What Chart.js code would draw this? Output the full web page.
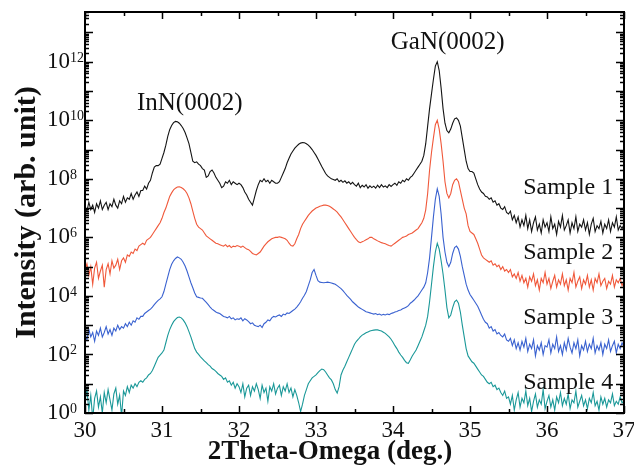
<!DOCTYPE html>
<html lang="en">
<head>
    <meta charset="UTF-8">
    <title>XRD 2Theta-Omega scans</title>
    <script src="https://cdn.jsdelivr.net/npm/chart.js"></script>
    <style>
        body { margin: 0; background: #fff; }
    </style>
</head>
<body>
    <canvas id="xrdChart" width="634" height="471"></canvas>

    <script>
        // scan positions, 30..37 deg in 0.025 deg steps
        const theta = Array.from({ length: 281 }, (_, i) => +(30 + i * 0.025).toFixed(3));

        // log10 of the intensity for each sample, one row = 0.25 deg
        const sample1 = [
            7.05, 6.9, 7.2, 6.95, 7.1, 6.85, 7.15, 7.0, 7.25, 6.95,
            7.1, 7.2, 6.95, 7.15, 7.05, 7.3, 7.1, 7.0, 7.25, 7.15,
            7.4, 7.2, 7.35, 7.3, 7.5, 7.3, 7.45, 7.55, 7.4, 7.6,
            7.6, 7.75, 7.65, 7.85, 7.95, 8.2, 8.4, 8.45, 8.45, 8.5,
            8.7, 8.9, 9.15, 9.45, 9.68, 9.82, 9.92, 9.96, 9.95, 9.9,
            9.82, 9.72, 9.58, 9.4, 9.2, 8.9, 8.6, 8.55, 8.58, 8.5,
            8.45, 8.35, 8.3, 8.05, 8.1, 8.25, 8.3, 8.2, 8.05, 7.95,
            7.85, 7.7, 7.75, 7.9, 7.85, 7.95, 7.8, 7.9, 7.85, 7.8,
            7.85, 7.8, 7.7, 7.55, 7.45, 7.3, 7.2, 7.1, 7.35, 7.6,
            7.8, 7.95, 7.9, 8.0, 7.9, 7.95, 7.85, 7.95, 7.9, 7.85,
            7.85, 7.9, 8.05, 8.2, 8.35, 8.55, 8.7, 8.85, 8.95, 9.05,
            9.12, 9.18, 9.22, 9.24, 9.23, 9.2, 9.15, 9.08, 9.0, 8.9,
            8.8, 8.68, 8.55, 8.42, 8.3, 8.18, 8.1, 8.05, 8.0, 7.98,
            7.95, 8.0, 7.9, 7.95, 7.88, 7.93, 7.85, 7.9, 7.82, 7.88,
            7.8, 7.75, 7.85, 7.7, 7.78, 7.72, 7.8, 7.68, 7.76, 7.7,
            7.75, 7.68, 7.78, 7.7, 7.8, 7.72, 7.76, 7.7, 7.8, 7.74,
            7.8, 7.85, 7.78, 7.9, 7.85, 7.95, 7.9, 8.0, 7.95, 8.05,
            8.1, 8.2, 8.3, 8.4, 8.5, 8.6, 8.8, 9.2, 9.8, 10.4,
            10.9, 11.4, 11.85, 12.0, 11.7, 11.1, 10.4, 9.9, 9.65, 9.57,
            9.7, 9.9, 10.05, 10.08, 10.0, 9.8, 9.4, 9.0, 8.6, 8.35,
            8.25, 8.25, 8.2, 8.0, 7.8, 7.65, 7.55, 7.5, 7.4, 7.38,
            7.3, 7.35, 7.2, 7.25, 7.1, 7.15, 7.0, 6.95, 7.05, 6.85,
            6.8, 6.9, 6.6, 6.75, 6.5, 6.7, 6.35, 6.6, 6.4, 6.75,
            6.3, 6.6, 6.2, 6.5, 6.7, 6.25, 6.45, 6.15, 6.6, 6.35,
            6.5, 6.2, 6.7, 6.3, 6.45, 6.1, 6.55, 6.35, 6.75, 6.25,
            6.4, 6.6, 6.15, 6.5, 6.3, 6.7, 6.2, 6.45, 6.35, 6.6,
            6.25, 6.5, 6.1, 6.45, 6.65, 6.2, 6.4, 6.3, 6.55, 6.15,
            6.45, 6.3, 6.6, 6.2, 6.5, 6.35, 6.7, 6.25, 6.4, 6.3,
            6.45
        ];
        const sample2 = [
            4.9, 5.1, 4.7, 5.0, 4.4, 4.95, 5.15, 4.6, 4.85, 5.05,
            4.3, 4.9, 5.1, 4.75, 5.2, 4.95, 5.05, 5.25, 4.9, 5.2,
            5.3, 5.15, 5.4, 5.35, 5.5, 5.45, 5.6, 5.55, 5.7, 5.75,
            5.8, 5.75, 5.9, 5.95, 6.0, 6.1, 6.2, 6.3, 6.4, 6.5,
            6.65, 6.85, 7.0, 7.2, 7.4, 7.52, 7.62, 7.68, 7.72, 7.73,
            7.7, 7.66, 7.6, 7.5, 7.35, 7.15, 6.9, 6.65, 6.45, 6.35,
            6.3, 6.25, 6.15, 6.05, 6.0, 5.95, 5.9, 5.85, 5.8, 5.78,
            5.75, 5.72, 5.7, 5.75, 5.68, 5.72, 5.65, 5.7, 5.68, 5.72,
            5.7, 5.66, 5.7, 5.65, 5.6, 5.58, 5.52, 5.45, 5.42, 5.4,
            5.45, 5.5, 5.6, 5.7, 5.78, 5.85, 5.9, 5.95, 5.98, 6.0,
            6.0, 6.02, 6.0, 5.98, 5.95, 5.9, 5.8, 5.72, 5.7, 5.78,
            5.95, 6.1, 6.3, 6.45, 6.55, 6.65, 6.75, 6.83, 6.9, 6.95,
            7.0, 7.03, 7.06, 7.08, 7.1, 7.1, 7.09, 7.06, 7.02, 6.97,
            6.92, 6.86, 6.78, 6.7, 6.6, 6.5, 6.4, 6.3, 6.2, 6.1,
            6.0, 5.92, 5.85, 5.82, 5.85, 5.88, 5.92, 5.95, 6.0, 6.0,
            5.95, 5.92, 5.88, 5.85, 5.82, 5.8, 5.78, 5.75, 5.72, 5.7,
            5.75, 5.8, 5.85, 5.9, 5.95, 6.0, 6.02, 6.05, 6.1, 6.12,
            6.15, 6.2, 6.25, 6.3, 6.4, 6.5, 6.65, 6.94, 7.5, 8.3,
            8.9, 9.4, 9.85, 10.0, 9.7, 9.2, 8.6, 7.9, 7.5, 7.35,
            7.5, 7.8, 7.95, 8.0, 7.9, 7.6, 7.3, 7.0, 6.8, 6.4,
            6.2, 6.15, 6.1, 5.95, 5.8, 5.6, 5.4, 5.3, 5.25, 5.2,
            5.15, 5.2, 5.05, 5.1, 5.0, 5.05, 4.9, 5.0, 4.85, 4.9,
            4.8, 4.9, 4.65, 4.75, 4.6, 4.8, 4.5, 4.7, 4.45, 4.6,
            4.3, 4.65, 4.5, 4.75, 4.35, 4.55, 4.2, 4.6, 4.45, 4.8,
            4.4, 4.6, 4.25, 4.5, 4.7, 4.3, 4.55, 4.4, 4.75, 4.35,
            4.55, 4.2, 4.6, 4.45, 4.8, 4.3, 4.5, 4.65, 4.25, 4.55,
            4.4, 4.7, 4.3, 4.55, 4.2, 4.6, 4.45, 4.75, 4.35, 4.5,
            4.6, 4.25, 4.5, 4.4, 4.7, 4.3, 4.55, 4.45, 4.6, 4.35,
            4.5
        ];
        const sample3 = [
            2.7, 2.5, 2.85, 2.6, 2.75, 2.45, 2.8, 2.65, 2.9, 2.6,
            2.75, 2.95, 2.7, 2.85, 2.65, 2.9, 2.8, 3.0, 2.85, 2.95,
            2.9, 3.05, 2.95, 3.1, 3.0, 3.15, 3.1, 3.25, 3.2, 3.3,
            3.3, 3.4, 3.45, 3.5, 3.55, 3.62, 3.7, 3.78, 3.85, 3.9,
            3.97, 4.15, 4.4, 4.65, 4.9, 5.08, 5.2, 5.28, 5.33, 5.3,
            5.25, 5.15, 5.02, 4.85, 4.65, 4.45, 4.28, 4.1, 3.97, 3.95,
            3.93, 3.92, 3.85, 3.78, 3.7, 3.62, 3.55, 3.5, 3.45, 3.42,
            3.4, 3.35, 3.3, 3.28, 3.25, 3.3, 3.22, 3.25, 3.18, 3.22,
            3.2, 3.25, 3.15, 3.22, 3.18, 3.12, 3.05, 3.08, 3.0, 2.97,
            2.95, 3.0, 2.92, 3.05, 3.1, 3.18, 3.15, 3.25, 3.3, 3.28,
            3.32, 3.35, 3.3, 3.38, 3.35, 3.42, 3.4, 3.45, 3.5, 3.55,
            3.62, 3.7, 3.8, 3.92, 4.02, 4.15, 4.35, 4.55, 4.8, 4.9,
            4.7, 4.52, 4.47, 4.46, 4.45, 4.46, 4.47, 4.46, 4.44, 4.42,
            4.4, 4.35, 4.3, 4.25, 4.18, 4.1, 4.02, 3.95, 3.88, 3.8,
            3.74, 3.68, 3.62, 3.58, 3.54, 3.5, 3.46, 3.44, 3.42, 3.4,
            3.38, 3.4, 3.36, 3.38, 3.34, 3.37, 3.35, 3.38, 3.36, 3.4,
            3.42, 3.45, 3.47, 3.5, 3.52, 3.56, 3.59, 3.62, 3.67, 3.75,
            3.8, 3.86, 3.93, 4.0, 4.1, 4.2, 4.3, 4.45, 4.8, 5.3,
            6.0, 6.7, 7.3, 7.66, 7.4, 6.8, 6.0, 5.5, 5.15, 5.0,
            5.15, 5.45, 5.65, 5.7, 5.6, 5.35, 5.0, 4.7, 4.4, 4.2,
            4.05, 3.95, 3.85, 3.75, 3.65, 3.5, 3.35, 3.2, 3.1, 3.05,
            2.9, 2.95, 2.8, 2.85, 2.7, 2.75, 2.65, 2.6, 2.7, 2.5,
            2.45, 2.55, 2.3, 2.5, 2.2, 2.4, 2.15, 2.45, 2.25, 2.55,
            2.1, 2.35, 2.2, 2.5, 1.95, 2.3, 2.15, 2.4, 2.0, 2.3,
            2.25, 2.5, 2.05, 2.35, 2.2, 2.6, 2.1, 2.3, 2.0, 2.4,
            2.15, 2.55, 2.25, 2.05, 2.4, 2.2, 2.5, 1.95, 2.3, 2.15,
            2.45, 2.1, 2.35, 2.2, 2.55, 2.05, 2.3, 2.15, 2.4, 2.0,
            2.35, 2.2, 2.5, 2.1, 2.3, 2.45, 2.05, 2.35, 2.2, 2.4,
            2.25
        ];
        const sample4 = [
            0.4, 0.8, 0.1, 0.6, -0.2, 0.5, 0.75, 0.2, 0.55, 0.0,
            0.7, 0.35, 0.8, 0.45, 0.1, 0.65, 0.85, 0.3, 0.6, -0.1,
            0.75, 0.6, 0.9, 0.7, 0.95, 0.85, 1.0, 0.9, 1.05, 1.1,
            1.05, 1.15, 1.2, 1.3, 1.35, 1.45, 1.6, 1.75, 1.9, 1.98,
            2.05, 2.15, 2.4, 2.65, 2.85, 3.0, 3.12, 3.2, 3.26, 3.28,
            3.25, 3.18, 3.08, 2.95, 2.78, 2.6, 2.4, 2.2, 2.08, 2.0,
            1.92, 1.85, 1.78, 1.72, 1.65, 1.6, 1.52, 1.48, 1.42, 1.35,
            1.3, 1.25, 1.15, 1.2, 1.05, 1.1, 0.95, 1.05, 0.85, 1.0,
            0.9, 0.7, 1.0, 0.55, 0.85, 0.95, 0.6, 0.9, 0.75, 1.0,
            0.8, 0.5, 0.95, 0.7, 0.85, 0.4, 0.9, 0.75, 1.0, 0.65,
            0.85, 0.95, 0.6, 0.9, 0.75, 1.0, 0.7, 0.85, 0.55, 0.8,
            0.6, 0.35, 0.05, 0.3, 0.6, 0.8, 1.0, 1.1, 1.2, 1.25,
            1.3, 1.38, 1.45, 1.5, 1.48, 1.4, 1.3, 1.2, 1.13, 1.0,
            0.8, 0.68, 0.9, 1.3, 1.47, 1.6, 1.75, 1.9, 2.05, 2.2,
            2.35, 2.45, 2.52, 2.6, 2.66, 2.7, 2.74, 2.77, 2.8, 2.82,
            2.83, 2.84, 2.84, 2.82, 2.8, 2.76, 2.72, 2.66, 2.6, 2.52,
            2.42, 2.3, 2.2, 2.08, 1.98, 1.9, 1.8, 1.72, 1.7, 1.82,
            1.95, 2.05, 2.15, 2.3, 2.45, 2.6, 2.8, 3.0, 3.3, 3.8,
            4.4, 5.0, 5.5, 5.8, 5.6, 5.2, 4.75, 4.2, 3.6, 3.25,
            3.35, 3.6, 3.8, 3.86, 3.75, 3.45, 3.0, 2.6, 2.2, 1.95,
            1.85, 1.75, 1.7, 1.6, 1.5, 1.4, 1.3, 1.25, 1.15, 1.05,
            1.0, 1.05, 0.9, 0.95, 0.8, 0.85, 0.7, 0.6, 0.75, 0.5,
            0.55, 0.3, 0.6, 0.1, 0.45, 0.7, 0.2, 0.5, 0.35, 0.75,
            0.25, 0.5, 0.05, 0.4, 0.65, 0.2, 0.45, 0.3, 0.8, 0.15,
            0.4, 0.6, 0.2, 0.45, 0.1, 0.55, 0.35, 0.7, 0.25, 0.5,
            0.3, 0.65, 0.15, 0.45, 0.35, 0.75, 0.2, 0.4, 0.6, 0.25,
            0.45, 0.15, 0.5, 0.35, 0.7, 0.25, 0.4, 0.1, 0.55, 0.3,
            0.5, 0.2, 0.45, 0.35, 0.65, 0.25, 0.4, 0.3, 0.55, 0.35,
            0.4
        ];

        const sampleNames = ['Sample 1', 'Sample 2', 'Sample 3', 'Sample 4'];
        const sampleColors = ['#141414', '#f0583a', '#3a62d0', '#1a9898'];
        const yLabelPowers = [0, 2, 4, 6, 8, 10, 12];

        const serif = "'Liberation Serif', 'Times New Roman', serif";
        const isPow10 = v => Math.abs(Math.log10(v) - Math.round(Math.log10(v))) < 1e-9;

        // peak names and sample tags, placed in data units (deg, log10 intensity)
        const peakLabels = [
            { text: 'InN(0002)', x: 31.36, e: 10.56 },
            { text: 'GaN(0002)', x: 34.71, e: 12.65 }
        ];
        const sampleTagE = [7.69, 5.47, 3.25, 1.03];

        // box frame with inward ticks on all four sides, 10^n labels, titles and tags
        const frameAndLabels = {
            id: 'frameAndLabels',
            afterDraw(chart) {
                const { ctx, chartArea: a, scales: { x, y } } = chart;
                ctx.save();
                ctx.strokeStyle = '#000';
                ctx.lineWidth = 1.5;
                ctx.beginPath();
                x.ticks.forEach(t => {
                    const px = Math.round(x.getPixelForValue(t.value)) + 0.5;
                    const len = Math.abs(t.value - Math.round(t.value)) < 1e-6 ? 7 : 4;
                    ctx.moveTo(px, a.bottom); ctx.lineTo(px, a.bottom - len);
                    ctx.moveTo(px, a.top); ctx.lineTo(px, a.top + len);
                });
                y.ticks.forEach(t => {
                    const py = Math.round(y.getPixelForValue(t.value)) + 0.5;
                    const len = isPow10(t.value) ? 8 : 4;
                    ctx.moveTo(a.left, py); ctx.lineTo(a.left + len, py);
                    ctx.moveTo(a.right, py); ctx.lineTo(a.right - len, py);
                });
                ctx.stroke();
                ctx.lineWidth = 2;
                ctx.strokeRect(a.left, a.top, a.right - a.left, a.bottom - a.top);

                ctx.fillStyle = '#111';

                // y labels as 10 with a raised exponent
                yLabelPowers.forEach(p => {
                    const py = y.getPixelForValue(10 ** p);
                    ctx.font = `23px ${serif}`;
                    ctx.textAlign = 'right';
                    ctx.textBaseline = 'middle';
                    ctx.fillText('10', a.left - 15, py);
                    ctx.font = `14px ${serif}`;
                    ctx.textAlign = 'left';
                    ctx.textBaseline = 'alphabetic';
                    ctx.fillText(String(p), a.left - 15, py);
                });

                ctx.textBaseline = 'middle';
                ctx.textAlign = 'center';
                ctx.font = `bold 27px ${serif}`;
                ctx.fillText('2Theta-Omega (deg.)', 330, 452);

                ctx.font = `25px ${serif}`;
                peakLabels.forEach(l => {
                    ctx.fillText(l.text, x.getPixelForValue(l.x), y.getPixelForValue(10 ** l.e));
                });
                ctx.font = `24px ${serif}`;
                ctx.textAlign = 'right';
                sampleNames.forEach((name, i) => {
                    ctx.fillText(name, x.getPixelForValue(36.86), y.getPixelForValue(10 ** sampleTagE[i]));
                });
                ctx.restore();
            }
        };

        const series = [sample1, sample2, sample3, sample4];

        new Chart(document.getElementById('xrdChart'), {
            type: 'line',
            data: {
                datasets: series.map((s, i) => ({
                    label: sampleNames[i],
                    data: theta.map((t, j) => ({ x: t, y: 10 ** s[j] })),
                    borderColor: sampleColors[i],
                    borderWidth: 1.1,
                    pointRadius: 0,
                    tension: 0
                }))
            },
            options: {
                responsive: false,
                animation: false,
                layout: { padding: { top: 12, right: 10, left: 0, bottom: 0 } },
                plugins: { legend: { display: false }, tooltip: { enabled: false } },
                scales: {
                    x: {
                        type: 'linear',
                        min: 30,
                        max: 37,
                        grid: { display: false },
                        border: { display: false },
                        ticks: {
                            stepSize: 0.5,
                            autoSkip: false,
                            maxRotation: 0,
                            padding: -4,
                            color: '#111',
                            font: { family: serif, size: 23 },
                            callback: v => Math.abs(v - Math.round(v)) < 1e-6 ? String(Math.round(v)) : ''
                        },
                        afterFit: s => {
                            s.height = 58;
                            s.paddingLeft = 0;
                            s.paddingRight = 0;
                        }
                    },
                    y: {
                        type: 'logarithmic',
                        min: 1,
                        max: 5e13,
                        grid: { display: false },
                        border: { display: false },
                        afterBuildTicks: s => {
                            const ticks = [];
                            for (let k = 0; k <= 13; k++) {
                                for (let m = 1; m <= 9; m++) {
                                    const v = m * 10 ** k;
                                    if (v <= 5e13) ticks.push({ value: v });
                                }
                            }
                            s.ticks = ticks;
                        },
                        ticks: { display: false },
                        title: {
                            display: true,
                            text: 'Intensity (arb. unit)',
                            color: '#111',
                            font: { family: serif, size: 30, weight: 'bold' },
                            padding: { top: 9, bottom: 0 }
                        },
                        afterFit: s => {
                            s.width = 85;
                            s.paddingTop = 0;
                            s.paddingBottom = 0;
                        }
                    }
                }
            },
            plugins: [frameAndLabels]
        });
    </script>
</body>
</html>
